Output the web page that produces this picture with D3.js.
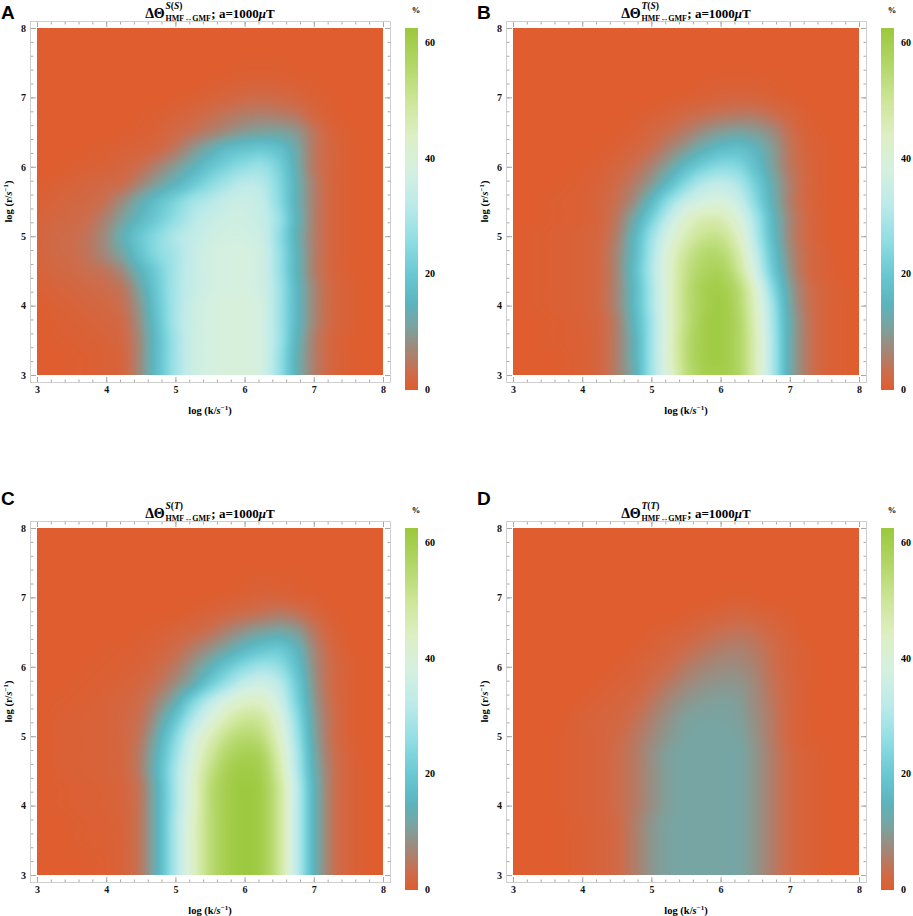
<!DOCTYPE html>
<html>
<head>
<meta charset="utf-8">
<script src="https://cdn.jsdelivr.net/npm/d3@7"></script>
<style>
  body { margin: 0; background: #fff; }
  text { font-family: "Liberation Serif", "Times New Roman", serif; font-weight: bold; }
</style>
</head>
<body>
<svg id="chart" width="913" height="916"></svg>
<script>
// grid positions (log k across, log r down from 8 to 3)
const logK = [3, 3.25, 3.5, 3.75, 4, 4.25, 4.5, 4.75, 5, 5.25, 5.5, 5.75, 6, 6.25, 6.5, 6.75, 7, 7.25, 7.5, 7.75, 8];
const logR = [8, 7.75, 7.5, 7.25, 7, 6.75, 6.5, 6.25, 6, 5.75, 5.5, 5.25, 5, 4.75, 4.5, 4.25, 4, 3.75, 3.5, 3.25, 3];

// percent values, one row per log r
const gridA = [
  [0,0,0,0,0,0,0,0,0,0,0,0,0,0,0,0,0,0,0,0,0],
  [0,0,0,0,0,0,0,0,0,0,0,0,0,0,0,0,0,0,0,0,0],
  [0,0,0,0,0,0,0,0,0,0,0,0,0.3,0.3,0.3,0,0,0,0,0,0],
  [0,0,0,0,0,0,0,0,0,0,0.3,0.6,0.8,1,0.8,0.5,0.3,0,0,0,0],
  [0,0,0,0,0,0,0,0,0.3,0.6,1.2,1.8,2.5,2.8,2.5,1.8,0.8,0.3,0,0,0],
  [0,0,0,0,0,0,0.3,0.6,1.2,2,3.2,4.5,5.5,6,5.5,4.5,2,0.6,0,0,0],
  [0,0,0,0,0,0.3,0.6,1.2,2.5,4,6,8,10,11,11,9,4.5,1.5,0.5,0,0],
  [0,0,0,0.3,0.6,1,1.5,2.5,5,9,13,17,19,20,18,12,5,2,0.5,0,0],
  [0,0,0.5,0.8,1.2,2,3.5,6.5,10,14,19,23,26,27,22,13,5,2,0.5,0,0],
  [0.3,0.8,1.2,1.8,2.5,3.5,7,11,15,20,25,29,32,31,24,14,6,2,0.5,0,0],
  [0.8,1.3,2,2.5,4,8,13,18,23,28,31,34,35,33,25,14,6,2,0.5,0,0],
  [1.2,2,2.5,3.5,6.5,11,16,21,26,31,34,36,36,34,27,15,6,2,0.5,0,0],
  [1.5,2.5,3,4.5,8,14,20,25,30,33,36,37,37,35,26,14,6,2,0.5,0,0],
  [1.5,2.5,3,4.5,7.5,12,19,25,29,34,37,38,38,36,27,15,6,2,0.5,0,0],
  [1.2,2,2.5,3.5,4.5,8,15,22,29,34,37,38,38,36,27,15,6,2,0.5,0,0],
  [0.8,1.3,1.8,2.5,3.2,5,12,21,29,34,37,38,38,36,28,16,7,2.5,1,0,0],
  [0.3,0.8,1.2,1.8,2.3,4,10,20,29,35,38,39,39,37,28,16,7,2.5,1,0,0],
  [0,0.5,0.8,1.2,1.8,3,9,19,29,35,38,39,39,37,28,16,7,2.5,1,0,0],
  [0,0.3,0.5,0.8,1.2,2.5,8,18,28,35,38,39,39,37,28,15,6,2,0.5,0,0],
  [0,0,0.3,0.5,1,2,8,18,28,35,38,39,39,37,27,14,6,2,0.5,0,0],
  [0,0,0.3,0.5,1,2,8,18,28,35,38,39,39,37,27,14,6,2,0.5,0,0]
];
const gridB = [
  [0,0,0,0,0,0,0,0,0,0,0,0,0,0,0,0,0,0,0,0,0],
  [0,0,0,0,0,0,0,0,0,0,0,0,0,0,0,0,0,0,0,0,0],
  [0,0,0,0,0,0,0,0,0,0,0,0,0,0,0,0,0,0,0,0,0],
  [0,0,0,0,0,0,0,0,0,0,0,0.3,0.5,0.5,0.5,0.3,0,0,0,0,0],
  [0,0,0,0,0,0,0,0,0,0.3,0.6,1,1.5,1.8,1.5,1,0.5,0,0,0,0],
  [0,0,0,0,0,0,0,0.3,0.8,1.5,2.5,3.5,4.5,5,5,3.5,1.8,0.5,0,0,0],
  [0,0,0,0,0,0,0.3,0.8,2,3.5,5.5,8,10,11,10,7.5,3.5,1,0.3,0,0],
  [0,0,0,0,0,0.3,0.8,1.8,3.5,6.5,10,14,17,18,15,10,4.5,1.5,0.5,0,0],
  [0,0,0,0,0.3,0.8,1.8,3.5,6.5,11,17,22,25,24,18,11,5,2,0.5,0,0],
  [0,0,0,0.3,0.6,1.2,2.8,5.5,10,17,25,31,33,30,22,13,6,2,0.5,0,0],
  [0,0,0.3,0.5,0.8,1.8,3.8,8,16,26,34,38,39,35,25,14,6,2,0.5,0,0],
  [0,0,0.3,0.5,0.8,1.8,5,12,22,33,42,46,46,40,29,16,7,2.5,0.5,0,0],
  [0,0.3,0.5,0.8,1.2,2.2,6,15,27,38,46,51,51,44,31,17,7,2.5,0.5,0,0],
  [0,0.3,0.5,0.8,1.2,2.5,7,16,29,41,50,55,55,48,34,19,8,3,1,0,0],
  [0,0.3,0.5,0.8,1.2,2.5,7,17,30,42,52,57,58,51,37,21,9,3,1,0,0],
  [0,0.3,0.5,0.8,1.2,2.5,7,16,29,42,53,59,60,55,42,25,11,4,1.5,0.5,0],
  [0,0.3,0.5,0.8,1.2,2.5,7,16,29,42,53,59,61,56,44,28,12,4.5,1.5,0.5,0],
  [0,0,0.3,0.5,1,2,6,15,28,42,53,60,61,57,45,29,13,5,1.5,0.5,0],
  [0,0,0.3,0.5,0.8,2,6,14,28,42,54,60,61,57,46,30,13,5,1.5,0.5,0],
  [0,0,0,0.3,0.8,2,6,14,28,42,54,60,61,57,46,30,13,5,1.5,0.5,0],
  [0,0,0,0.3,0.8,2,6,13,28,41,53,59,60,57,46,30,13,5,1.5,0.5,0]
];
const gridC = [
  [0,0,0,0,0,0,0,0,0,0,0,0,0,0,0,0,0,0,0,0,0],
  [0,0,0,0,0,0,0,0,0,0,0,0,0,0,0,0,0,0,0,0,0],
  [0,0,0,0,0,0,0,0,0,0,0,0,0,0,0,0,0,0,0,0,0],
  [0,0,0,0,0,0,0,0,0,0,0,0,0.3,0.5,0.5,0.3,0,0,0,0,0],
  [0,0,0,0,0,0,0,0,0,0,0.3,0.6,1,1.5,1.5,1,0.5,0,0,0,0],
  [0,0,0,0,0,0,0,0,0.3,0.8,1.5,2.5,3.5,4.5,5.5,4.5,2.2,0.6,0,0,0],
  [0,0,0,0,0,0,0.3,0.8,1.5,2.5,4,6.5,9,11,12,10,5,1.5,0.3,0,0],
  [0,0,0,0,0.3,0.5,0.8,1.5,3,5.5,8.5,12,16,19,20,15,7,2.5,0.5,0,0],
  [0,0,0,0.3,0.5,0.8,1.3,2.8,5,9,14,20,25,28,26,18,8,3,1,0,0],
  [0,0,0.3,0.5,0.8,1.2,2.2,4.2,8,13,21,28,34,36,32,21,9,3,1,0,0],
  [0,0.3,0.5,0.8,1.2,1.8,3.2,7,13,23,32,39,43,43,36,23,10,3.5,1,0,0],
  [0,0.5,0.8,1,1.3,2.2,4,10,19,30,39,46,50,49,40,26,11,4,1,0,0],
  [0,0.5,0.8,1,1.3,2.2,5,13,24,36,45,52,55,53,43,28,12,4,1,0,0],
  [0,0.5,0.8,1,1.3,2.2,6,15,27,39,49,56,59,57,46,30,13,4.5,1.5,0,0],
  [0,0.5,0.8,1,1.3,2.2,6,16,29,41,52,59,61,59,48,31,14,5,1.5,0.3,0],
  [0,0.3,0.5,0.8,1,1.8,5,15,29,42,54,60,62,60,50,33,15,5,1.5,0.3,0],
  [0,0.3,0.5,0.8,1,1.8,5,15,29,42,54,60,62,60,50,33,15,5,1.5,0.3,0],
  [0,0,0.3,0.5,0.8,1.5,5,15,30,43,54,60,62,60,50,33,15,5,1.5,0.3,0],
  [0,0,0.3,0.5,0.8,1.5,5,15,30,43,54,60,62,60,50,33,15,5,1.5,0.3,0],
  [0,0,0,0.3,0.5,1.5,5,15,30,43,54,60,62,60,50,33,15,5,1.5,0.3,0],
  [0,0,0,0.3,0.5,1.5,5,15,30,43,54,60,62,60,50,33,15,5,1.5,0.3,0]
];
const gridD = [
  [0,0,0,0,0,0,0,0,0,0,0,0,0,0,0,0,0,0,0,0,0],
  [0,0,0,0,0,0,0,0,0,0,0,0,0,0,0,0,0,0,0,0,0],
  [0,0,0,0,0,0,0,0,0,0,0,0,0,0,0,0,0,0,0,0,0],
  [0,0,0,0,0,0,0,0,0,0,0,0,0,0,0,0,0,0,0,0,0],
  [0,0,0,0,0,0,0,0,0,0,0,0,0.3,0.5,0.3,0,0,0,0,0,0],
  [0,0,0,0,0,0,0,0,0,0,0.5,1,1.5,2,1.5,1,0.5,0,0,0,0],
  [0,0,0,0,0,0,0,0,0.5,1,1.5,2.5,3.5,4,3.5,2,1,0,0,0,0],
  [0,0,0,0,0,0,0,0.5,1,2,3,4.5,5.5,6,5,3,1.5,0.5,0,0,0],
  [0,0,0,0,0,0,0.5,1,2,3,5,6.5,7.5,7.5,6,3.5,1.5,0.5,0,0,0],
  [0,0,0,0,0,0.5,1,1.5,3,5,7,8.5,9,9,7,4,2,0.5,0,0,0],
  [0,0,0,0,0.5,1,1.5,2.5,4.5,7,9,10,10.5,10,7.5,4.5,2,0.5,0,0,0],
  [0,0,0,0.3,1,1.5,2,3.5,6,8.5,10.5,11,11,10.5,8,5,2,0.5,0,0,0],
  [0,0,0,0.5,1,1.5,2.5,4.5,7,9.5,11,11.5,11.5,11,8.5,5,2,0.5,0,0,0],
  [0,0,0,0.5,1,1.5,3,5,8,10.5,11.5,11.5,11.5,11.5,9,5.5,2.5,1,0.3,0,0],
  [0,0,0,0.5,1,1.5,3,5,8,10.5,11.5,11.5,11.5,11.5,9,5.5,2.5,1,0.3,0,0],
  [0,0,0,0.5,1,1.5,3,5,8,10.5,11.5,11.5,11.5,11.5,9,5.5,2.5,1,0.3,0,0],
  [0,0,0,0.5,1,1.5,3,5,8,10.5,11.5,11.5,11.5,11.5,9,5.5,2.5,1,0.3,0,0],
  [0,0,0,0.3,0.8,1.5,2.5,5.5,9,11,11.5,11.5,11.5,11.5,9,5.5,2.5,1,0.3,0,0],
  [0,0,0,0.3,0.8,1.5,2.5,5.5,9,11,11.5,11.5,11.5,11.5,9,5.5,2.5,1,0.3,0,0],
  [0,0,0,0.3,0.8,1.5,2.5,5.5,9,11,11.5,11.5,11.5,11.5,9,5.5,2.5,1,0.3,0,0],
  [0,0,0,0.3,0.8,1.5,2.5,5.5,9,11,11.5,11.5,11.5,11.5,9,5.5,2.5,1,0.3,0,0]
];

// colour legend
const colorStops = [0, 3, 6, 11, 15, 20, 26, 32, 38, 44, 50, 56, 62.6];
const colorList = ["#df5d2e", "#cd6c4b", "#ac806e", "#7aa3a0", "#5cb4be", "#69c8d2",
                   "#91dee4", "#bceae9", "#d5f0e0", "#ddefc4", "#cde698", "#b4d769", "#9bc83c"];
const barTicks = [0, 20, 40, 60];
const axisTicks = [3, 4, 5, 6, 7, 8];

const panelLetters = ["A", "B", "C", "D"];
const panelSup = [["S", "S"], ["T", "S"], ["S", "T"], ["T", "T"]];
const panelGrids = [gridA, gridB, gridC, gridD];

const svg = d3.select("#chart");
const vMax = colorStops[colorStops.length - 1];
const color = d3.scaleLinear().domain(colorStops).range(colorList).interpolate(d3.interpolateRgb).clamp(true);
const lut = d3.range(1001).map(i => d3.rgb(color(i / 1000 * vMax)));

const kIndex = d3.scaleLinear().domain(logK).range(logK.map((d, i) => i)).clamp(true);
const rIndex = d3.scaleLinear().domain(logR).range(logR.map((d, i) => i)).clamp(true);

function cubic(p0, p1, p2, p3, t) {
  return p1 + 0.5 * t * (p2 - p0 + t * (2 * p0 - 5 * p1 + 4 * p2 - p3 + t * (3 * (p1 - p2) + p3 - p0)));
}
function sample(grid, fi, fj) {
  const nR = grid.length, nK = grid[0].length;
  const i = Math.min(Math.floor(fi), nK - 2), j = Math.min(Math.floor(fj), nR - 2);
  const tx = fi - i, ty = fj - j;
  const g = (r, c) => grid[Math.max(0, Math.min(nR - 1, r))][Math.max(0, Math.min(nK - 1, c))];
  const rows = [-1, 0, 1, 2].map(d => cubic(g(j + d, i - 1), g(j + d, i), g(j + d, i + 1), g(j + d, i + 2), tx));
  return Math.max(0, Math.min(vMax, cubic(rows[0], rows[1], rows[2], rows[3], ty)));
}

const offsets = [[0, 0], [476, 0], [0, 500], [476, 500]];

function drawPanel(idx) {
  const [ox, oy] = offsets[idx];
  const grid = panelGrids[idx];
  const g = svg.append("g").attr("transform", `translate(${ox},${oy})`);

  const x = d3.scaleLinear().domain([3, 8]).range([37, 383]);
  const y = d3.scaleLinear().domain([3, 8]).range([375, 28]);

  // density image
  const W = Math.round(x(8) - x(3)), H = Math.round(y(3) - y(8));
  const canvas = document.createElement("canvas");
  canvas.width = W; canvas.height = H;
  const ctx = canvas.getContext("2d");
  const img = ctx.createImageData(W, H);
  for (let py = 0; py < H; py++) {
    const r = y.invert(y(8) + py + 0.5);
    const fj = rIndex(r);
    for (let px = 0; px < W; px++) {
      const k = x.invert(x(3) + px + 0.5);
      const v = sample(grid, kIndex(k), fj);
      const c = lut[Math.round(v / vMax * 1000)];
      const o = (py * W + px) * 4;
      img.data[o] = c.r; img.data[o + 1] = c.g; img.data[o + 2] = c.b; img.data[o + 3] = 255;
    }
  }
  ctx.putImageData(img, 0, 0);
  g.append("image")
    .attr("x", x(3)).attr("y", y(8)).attr("width", W).attr("height", H)
    .attr("preserveAspectRatio", "none")
    .attr("href", canvas.toDataURL());

  // frame
  g.append("rect").attr("x", 30.5).attr("y", 21.5).attr("width", 360).attr("height", 361)
    .attr("fill", "none").attr("stroke", "#cfcfcf");

  const styleAxis = sel => {
    sel.select(".domain").remove();
    sel.selectAll("line").attr("stroke", "#a8a8a8");
    sel.selectAll("text").attr("font-family", null).attr("font-size", 10).attr("fill", "#111");
  };
  const minor = x.ticks(25);
  g.append("g").attr("transform", "translate(0,382)")
    .call(d3.axisBottom(x).tickValues(minor).tickSize(-2.5).tickFormat("")).call(styleAxis);
  g.append("g").attr("transform", "translate(0,382)")
    .call(d3.axisBottom(x).tickValues(axisTicks).tickSize(-5).tickPadding(4).tickFormat(d3.format("d"))).call(styleAxis);
  g.append("g").attr("transform", "translate(0,22)")
    .call(d3.axisTop(x).tickValues(minor).tickSize(-2.5).tickFormat("")).call(styleAxis);
  g.append("g").attr("transform", "translate(0,22)")
    .call(d3.axisTop(x).tickValues(axisTicks).tickSize(-5).tickFormat("")).call(styleAxis);
  g.append("g").attr("transform", "translate(31,0)")
    .call(d3.axisLeft(y).tickValues(minor).tickSize(-2.5).tickFormat("")).call(styleAxis);
  g.append("g").attr("transform", "translate(31,0)")
    .call(d3.axisLeft(y).tickValues(axisTicks).tickSize(-5).tickPadding(5).tickFormat(d3.format("d"))).call(styleAxis);
  g.append("g").attr("transform", "translate(390,0)")
    .call(d3.axisRight(y).tickValues(minor).tickSize(-2.5).tickFormat("")).call(styleAxis);
  g.append("g").attr("transform", "translate(390,0)")
    .call(d3.axisRight(y).tickValues(axisTicks).tickSize(-5).tickFormat("")).call(styleAxis);

  // axis titles
  const xl = g.append("text").attr("x", (x(3) + x(8)) / 2).attr("y", 414)
    .attr("text-anchor", "middle").attr("font-size", 10.5);
  xl.append("tspan").text("log (k/");
  xl.append("tspan").attr("font-style", "italic").text("s");
  xl.append("tspan").attr("font-size", 7).attr("dy", -4).text("\u22121");
  xl.append("tspan").attr("dy", 4).text(")");

  const yl = g.append("text")
    .attr("transform", `translate(12,${(y(3) + y(8)) / 2}) rotate(-90)`)
    .attr("text-anchor", "middle").attr("font-size", 10.5);
  yl.append("tspan").text("log (r/");
  yl.append("tspan").attr("font-style", "italic").text("s");
  yl.append("tspan").attr("font-size", 7).attr("dy", -4).text("\u22121");
  yl.append("tspan").attr("dy", 4).text(")");

  // title: ΔΘ^{X(Y)}_{HMF↔GMF}; a=1000μT
  const tg = g.append("g");
  const main = tg.append("text").attr("x", 0).attr("y", 18).attr("font-size", 14).text("\u0394\u0398");
  const w1 = main.node().getComputedTextLength();
  const sup = tg.append("text").attr("x", w1 + 1).attr("y", 8.5).attr("font-size", 9.5);
  sup.append("tspan").attr("font-style", "italic").text(panelSup[idx][0]);
  sup.append("tspan").text("(");
  sup.append("tspan").attr("font-style", "italic").text(panelSup[idx][1]);
  sup.append("tspan").text(")");
  const sub = tg.append("text").attr("x", w1 + 1).attr("y", 21).attr("font-size", 8).text("HMF\u2194GMF");
  const w2 = Math.max(sup.node().getComputedTextLength(), sub.node().getComputedTextLength());
  const rest = tg.append("text").attr("x", w1 + w2 + 1.5).attr("y", 18).attr("font-size", 13);
  rest.append("tspan").text("; a=1000");
  rest.append("tspan").attr("font-style", "italic").text("\u03bc");
  rest.append("tspan").text("T");
  const total = w1 + w2 + 1.5 + rest.node().getComputedTextLength();
  tg.attr("transform", `translate(${(x(3) + x(8)) / 2 - total / 2},0)`);

  // colour bar
  const bar = d3.scaleLinear().domain([0, vMax]).range([389, 28]);
  const gradId = "grad" + idx;
  const grad = g.append("defs").append("linearGradient").attr("id", gradId)
    .attr("x1", 0).attr("y1", 1).attr("x2", 0).attr("y2", 0);
  grad.selectAll("stop").data(colorStops).join("stop")
    .attr("offset", d => d / vMax)
    .attr("stop-color", d => color(d));
  g.append("rect").attr("x", 405).attr("y", bar(vMax)).attr("width", 13).attr("height", 390 - bar(vMax))
    .attr("fill", `url(#${gradId})`);
  g.selectAll(".bartick").data(barTicks).join("text").attr("class", "bartick")
    .attr("x", 425).attr("y", d => bar(d)).attr("dy", "0.35em").attr("font-size", 10).text(d => d);
  g.append("text").attr("x", 416).attr("y", 13).attr("text-anchor", "middle").attr("font-size", 8.5).text("%");

  // panel letter
  g.append("text").attr("x", 1).attr("y", idx < 2 ? 19 : 5)
    .style("font-family", "'Liberation Sans', Arial, sans-serif")
    .attr("font-size", 19).text(panelLetters[idx]);
}

panelLetters.forEach((d, i) => drawPanel(i));
</script>
</body>
</html>
